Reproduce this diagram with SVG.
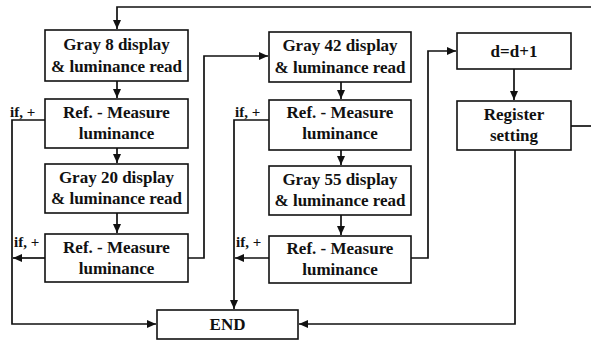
<svg xmlns="http://www.w3.org/2000/svg" width="591" height="340" viewBox="0 0 591 340">
  <defs>
    <marker id="arrow" markerUnits="userSpaceOnUse" markerWidth="10" markerHeight="9" refX="9" refY="4" orient="auto">
      <path d="M0,0 L9,4 L0,8 Z" fill="#111"/>
    </marker>
    <style>
      .box { fill: #fff; stroke: #111; stroke-width: 1.6; }
      .lbl { font-family: 'Liberation Serif', 'DejaVu Serif', serif; font-weight: 700; font-size: 17px; fill: #111; text-anchor: middle; }
      .cond { font-family: 'Liberation Serif', 'DejaVu Serif', serif; font-weight: 700; font-size: 15px; fill: #111; }
      .wire { fill: none; stroke: #111; stroke-width: 1.7; }
      .arr { marker-end: url(#arrow); }
    </style>
  </defs>

  <rect width="591" height="340" fill="#fff"/>

  <!-- connectors -->
  <g id="connectors">
    <!-- loop back from the right into the first step -->
    <path class="wire arr" d="M591,7 H117 V29"/>
    <path class="wire" d="M571,126 H591"/>
    <!-- column 1 flow -->
    <path class="wire arr" d="M117,81 V98"/>
    <path class="wire arr" d="M117,148 V163"/>
    <path class="wire arr" d="M117,213 V233"/>
    <!-- column 1 exits -->
    <path class="wire arr" d="M45,120 H12 V324 H156"/>
    <path class="wire arr" d="M45,258 H13"/>
    <path class="wire arr" d="M188,258 H204 V56 H268"/>
    <!-- column 2 flow -->
    <path class="wire arr" d="M341,82 V99"/>
    <path class="wire arr" d="M341,150 V165"/>
    <path class="wire arr" d="M341,215 V235"/>
    <!-- column 2 exits -->
    <path class="wire arr" d="M269,120 H234 V309"/>
    <path class="wire arr" d="M269,258 H235"/>
    <path class="wire arr" d="M411,258 H428 V51 H456"/>
    <!-- column 3 -->
    <path class="wire arr" d="M514,69 V100"/>
    <path class="wire arr" d="M515,150 V324 H299"/>
  </g>

  <!-- condition labels -->
  <g id="conditions">
    <text class="cond" x="10" y="117">if, +</text>
    <text class="cond" x="14" y="247">if, +</text>
    <text class="cond" x="235" y="117">if, +</text>
    <text class="cond" x="236" y="247">if, +</text>
  </g>

  <g id="gray8">
    <rect class="box" x="45" y="30" width="143" height="51"/>
    <text class="lbl" x="116.5" y="49.5">Gray 8 display</text>
    <text class="lbl" x="116.5" y="71.5">&amp; luminance read</text>
  </g>
  <g id="ref1">
    <rect class="box" x="45" y="99" width="143" height="49"/>
    <text class="lbl" x="116.5" y="118">Ref. - Measure</text>
    <text class="lbl" x="116.5" y="139">luminance</text>
  </g>
  <g id="gray20">
    <rect class="box" x="45" y="164" width="143" height="49"/>
    <text class="lbl" x="116.5" y="182.5">Gray 20 display</text>
    <text class="lbl" x="116.5" y="204">&amp; luminance read</text>
  </g>
  <g id="ref2">
    <rect class="box" x="45" y="234" width="143" height="48"/>
    <text class="lbl" x="116.5" y="253">Ref. - Measure</text>
    <text class="lbl" x="116.5" y="274">luminance</text>
  </g>

  <g id="gray42">
    <rect class="box" x="269" y="32" width="142" height="50"/>
    <text class="lbl" x="340" y="51">Gray 42 display</text>
    <text class="lbl" x="340" y="73">&amp; luminance read</text>
  </g>
  <g id="ref3">
    <rect class="box" x="269" y="100" width="142" height="50"/>
    <text class="lbl" x="340" y="118">Ref. - Measure</text>
    <text class="lbl" x="340" y="139">luminance</text>
  </g>
  <g id="gray55">
    <rect class="box" x="269" y="166" width="142" height="49"/>
    <text class="lbl" x="340" y="184.5">Gray 55 display</text>
    <text class="lbl" x="340" y="206">&amp; luminance read</text>
  </g>
  <g id="ref4">
    <rect class="box" x="269" y="236" width="142" height="47"/>
    <text class="lbl" x="340" y="254">Ref. - Measure</text>
    <text class="lbl" x="340" y="275">luminance</text>
  </g>

  <g id="increment">
    <rect class="box" x="457" y="33" width="114" height="36"/>
    <text class="lbl" x="514" y="56.5">d=d+1</text>
  </g>
  <g id="register">
    <rect class="box" x="457" y="101" width="114" height="49"/>
    <text class="lbl" x="514" y="120">Register</text>
    <text class="lbl" x="514" y="141">setting</text>
  </g>

  <g id="end">
    <rect class="box" x="157" y="310" width="141" height="29"/>
    <text class="lbl" x="227.5" y="330">END</text>
  </g>
</svg>
